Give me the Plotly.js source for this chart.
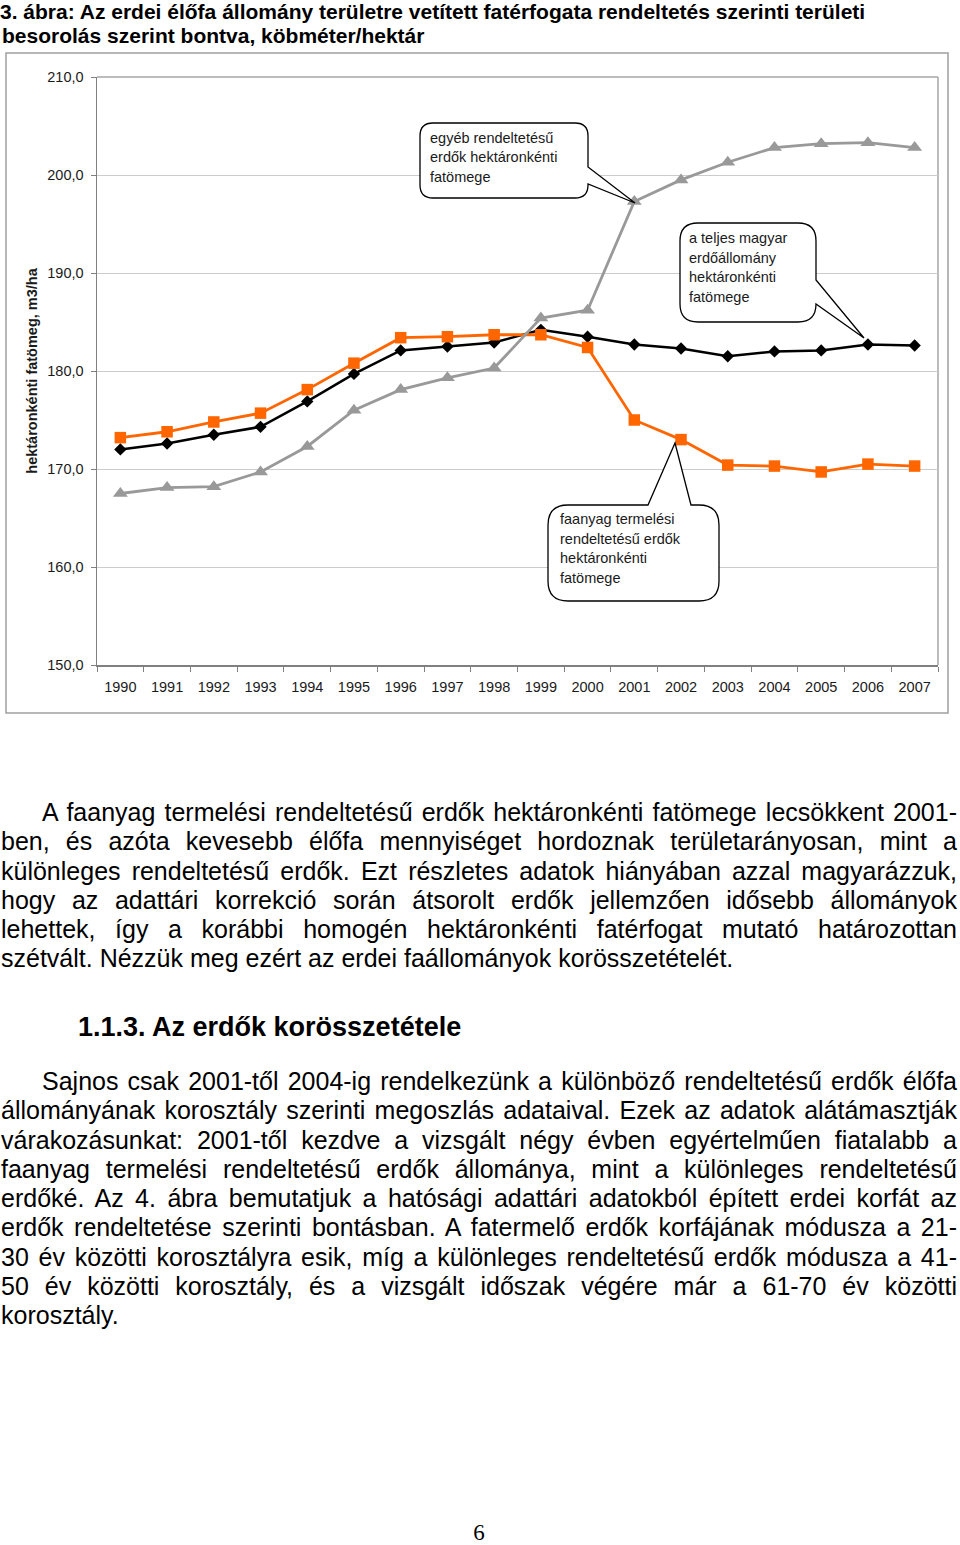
<!DOCTYPE html>
<html>
<head>
<meta charset="utf-8">
<script src="https://cdn.plot.ly/plotly-3.0.1.min.js"></script>
<style>
  html, body { margin:0; padding:0; background:#fff; }
  body { width:960px; height:1545px; position:relative; overflow:hidden; font-family:"Liberation Sans", Arial, sans-serif; color:#000; }
  #chart { position:absolute; left:0; top:0; width:960px; height:720px; }
  .para { position:absolute; left:1px; width:956px; font-size:25px; }
  .ln { height:29.25px; line-height:29.25px; white-space:nowrap; text-align:justify; text-align-last:justify; }
  .ln.last { text-align:left; text-align-last:left; }
  .ln.ind { padding-left:41px; }
  #heading { position:absolute; left:78px; top:1010px; font-size:27px; font-weight:bold; line-height:34px; white-space:nowrap; }
  #pageno { position:absolute; left:0; width:958px; text-align:center; top:1518px; font-family:"Liberation Serif", "Times New Roman", serif; font-size:23px; line-height:30px; }
</style>
</head>
<body>
<div id="chart"></div>

<div class="para" style="top:798px">
  <div class="ln ind">A faanyag termelési rendeltetésű erdők hektáronkénti fatömege lecsökkent 2001-</div>
  <div class="ln">ben, és azóta kevesebb élőfa mennyiséget hordoznak területarányosan, mint a</div>
  <div class="ln">különleges rendeltetésű erdők. Ezt részletes adatok hiányában azzal magyarázzuk,</div>
  <div class="ln">hogy az adattári korrekció során átsorolt erdők jellemzően idősebb állományok</div>
  <div class="ln">lehettek, így a korábbi homogén hektáronkénti fatérfogat mutató határozottan</div>
  <div class="ln last">szétvált. Nézzük meg ezért az erdei faállományok korösszetételét.</div>
</div>

<div id="heading">1.1.3. Az erdők korösszetétele</div>

<div class="para" style="top:1067px">
  <div class="ln ind">Sajnos csak 2001-től 2004-ig rendelkezünk a különböző rendeltetésű erdők élőfa</div>
  <div class="ln">állományának korosztály szerinti megoszlás adataival. Ezek az adatok alátámasztják</div>
  <div class="ln">várakozásunkat: 2001-től kezdve a vizsgált négy évben egyértelműen fiatalabb a</div>
  <div class="ln">faanyag termelési rendeltetésű erdők állománya, mint a különleges rendeltetésű</div>
  <div class="ln">erdőké. Az 4. ábra bemutatjuk a hatósági adattári adatokból épített erdei korfát az</div>
  <div class="ln">erdők rendeltetése szerinti bontásban. A fatermelő erdők korfájának módusza a 21-</div>
  <div class="ln">30 év közötti korosztályra esik, míg a különleges rendeltetésű erdők módusza a 41-</div>
  <div class="ln">50 év közötti korosztály, és a vizsgált időszak végére már a 61-70 év közötti</div>
  <div class="ln last">korosztály.</div>
</div>

<div id="pageno">6</div>

<script>
// ---- data ----
const years = ['1990','1991','1992','1993','1994','1995','1996','1997','1998','1999','2000','2001','2002','2003','2004','2005','2006','2007'];
const totalHungary = [172.0,172.6,173.5,174.3,176.9,179.7,182.1,182.5,182.9,184.2,183.5,182.7,182.3,181.5,182.0,182.1,182.7,182.6];
const timberForests = [173.2,173.8,174.8,175.7,178.1,180.8,183.4,183.5,183.7,183.7,182.4,175.0,173.0,170.4,170.3,169.7,170.5,170.3];
const otherForests = [167.5,168.1,168.2,169.7,172.3,176.0,178.1,179.3,180.3,185.4,186.2,197.3,199.5,201.3,202.8,203.2,203.3,202.8];

const seriesNames = ['a teljes magyar erdőállomány hektáronkénti fatömege',
                     'faanyag termelési rendeltetésű erdők hektáronkénti fatömege',
                     'egyéb rendeltetésű erdők hektáronkénti fatömege'];

const calloutOther = ['egyéb rendeltetésű', 'erdők hektáronkénti', 'fatömege'];
const calloutTotal = ['a teljes magyar', 'erdőállomány', 'hektáronkénti', 'fatömege'];
const calloutTimber = ['faanyag termelési', 'rendeltetésű erdők', 'hektáronkénti', 'fatömege'];

const titleLines = ['3. ábra: Az erdei élőfa állomány területre vetített fatérfogata rendeltetés szerinti területi',
                    'besorolás szerint bontva, köbméter/hektár'];
const yTitle = 'hektáronkénti fatömeg, m3/ha';

// ---- layout helpers (pixel -> paper) ----
const W = 960, H = 720;
const M = {l:97, r:22, t:77, b:55};
const PL = M.l, PR = W - M.r, PT = M.t, PB = H - M.b;
function fx(x){ return (x - PL) / (PR - PL); }
function fy(y){ return (PB - y) / (PB - PT); }
function P(x, y){ return fx(x).toFixed(5) + ',' + fy(y).toFixed(5); }

function calloutSide(L, T, R, B, r, w1, tip, w2){
  return `M ${P(L+r,T)} L ${P(R-r,T)} Q ${P(R,T)} ${P(R,T+r)} L ${P(R,w1)} L ${P(tip[0],tip[1])} L ${P(R,w2)} ` +
         `L ${P(R,B-r)} Q ${P(R,B)} ${P(R-r,B)} L ${P(L+r,B)} Q ${P(L,B)} ${P(L,B-r)} L ${P(L,T+r)} Q ${P(L,T)} ${P(L+r,T)} Z`;
}
function calloutTop(L, T, R, B, r, w1, tip, w2){
  return `M ${P(L+r,T)} L ${P(w1,T)} L ${P(tip[0],tip[1])} L ${P(w2,T)} L ${P(R-r,T)} Q ${P(R,T)} ${P(R,T+r)} ` +
         `L ${P(R,B-r)} Q ${P(R,B)} ${P(R-r,B)} L ${P(L+r,B)} Q ${P(L,B)} ${P(L,B-r)} L ${P(L,T+r)} Q ${P(L,T)} ${P(L+r,T)} Z`;
}
function textLines(lines, x, y0, dy){
  return lines.map((t, i) => ({
    text: t, xref:'paper', yref:'paper', x: fx(x), y: fy(y0 + i*dy),
    xanchor:'left', yanchor:'middle', showarrow:false,
    font:{family:'Liberation Sans, Arial, sans-serif', size:14.5, color:'#1a1a1a'}
  }));
}

const calloutStyle = {type:'path', xref:'paper', yref:'paper', fillcolor:'#ffffff', line:{color:'#000', width:1.3}, layer:'above'};
const titleFont = {family:'Liberation Sans, Arial, sans-serif', size:21, color:'#000'};

const traces = [
  {x: years, y: totalHungary, name: seriesNames[0], type:'scatter', mode:'lines+markers',
   line:{color:'#000000', width:2.5}, marker:{symbol:'diamond', size:9.5, color:'#000000'}},
  {x: years, y: timberForests, name: seriesNames[1], type:'scatter', mode:'lines+markers',
   line:{color:'#FF6600', width:2.8}, marker:{symbol:'square', size:11.5, color:'#FF6600'}},
  {x: years, y: otherForests, name: seriesNames[2], type:'scatter', mode:'lines+markers',
   line:{color:'#999999', width:2.8}, marker:{symbol:'triangle-up', size:13, color:'#999999'}}
];

const layout = {
  width: W, height: H,
  margin: M,
  paper_bgcolor:'rgba(0,0,0,0)', plot_bgcolor:'#ffffff',
  showlegend:false,
  separators: ', ',
  font:{family:'Liberation Sans, Arial, sans-serif', color:'#1a1a1a', size:14.5},
  title:{text: '<b>' + titleLines[0] + '</b>', x:0, xref:'container', xanchor:'left',
         y: 1 - 12/H, yref:'container', yanchor:'middle', font: titleFont},
  xaxis:{type:'category', range:[-0.5, 17.5], tickson:'boundaries', ticks:'outside', ticklen:5,
         tickcolor:'#808080', tickwidth:1, showline:true, linecolor:'#808080', linewidth:1.5, mirror:false,
         showgrid:false, zeroline:false, fixedrange:true, ticklabelstandoff:8,
         tickfont:{size:14.5, color:'#1a1a1a'}},
  yaxis:{range:[150, 210], dtick:10, tick0:150, tickformat:'.1f', ticks:'outside', ticklen:5,
         tickcolor:'#808080', showline:true, linecolor:'#808080', linewidth:1.5,
         showgrid:true, gridcolor:'#cccccc', gridwidth:1, zeroline:false, ticklabelstandoff:4,
         tickfont:{size:14.5, color:'#1a1a1a'},
         title:{text:'<b>' + yTitle + '</b>', standoff:6, font:{size:14.5, color:'#1a1a1a'}}},
  shapes:[
    // outer chart frame
    {type:'rect', xref:'paper', yref:'paper', x0:fx(6), x1:fx(948), y0:fy(713), y1:fy(53),
     line:{color:'#a0a0a0', width:1.5}, fillcolor:'rgba(0,0,0,0)', layer:'below'},
    // top / right plot border
    {type:'line', xref:'paper', yref:'paper', x0:0, x1:1, y0:1, y1:1, line:{color:'#a6a6a6', width:1.5}, layer:'below'},
    {type:'line', xref:'paper', yref:'paper', x0:1, x1:1, y0:0, y1:1, line:{color:'#a6a6a6', width:1.5}, layer:'below'},
    Object.assign({path: calloutSide(420, 123, 588, 198, 13, 167, [635, 203], 184)}, calloutStyle),
    Object.assign({path: calloutSide(680, 223, 816, 322, 18, 280, [864, 338], 304)}, calloutStyle),
    Object.assign({path: calloutTop(548, 505, 719, 601, 20, 648, [675, 443], 691)}, calloutStyle)
  ],
  annotations: [
    {text:'<b>' + titleLines[1] + '</b>', xref:'paper', yref:'paper', x: fx(0), y: fy(35),
     xanchor:'left', yanchor:'middle', showarrow:false, font: titleFont}
  ].concat(
    textLines(calloutOther, 428, 138, 19.5),
    textLines(calloutTotal, 687, 238, 19.7),
    textLines(calloutTimber, 558, 519, 19.7)
  )
};

Plotly.newPlot('chart', traces, layout, {staticPlot:true, displayModeBar:false});
</script>
</body>
</html>
